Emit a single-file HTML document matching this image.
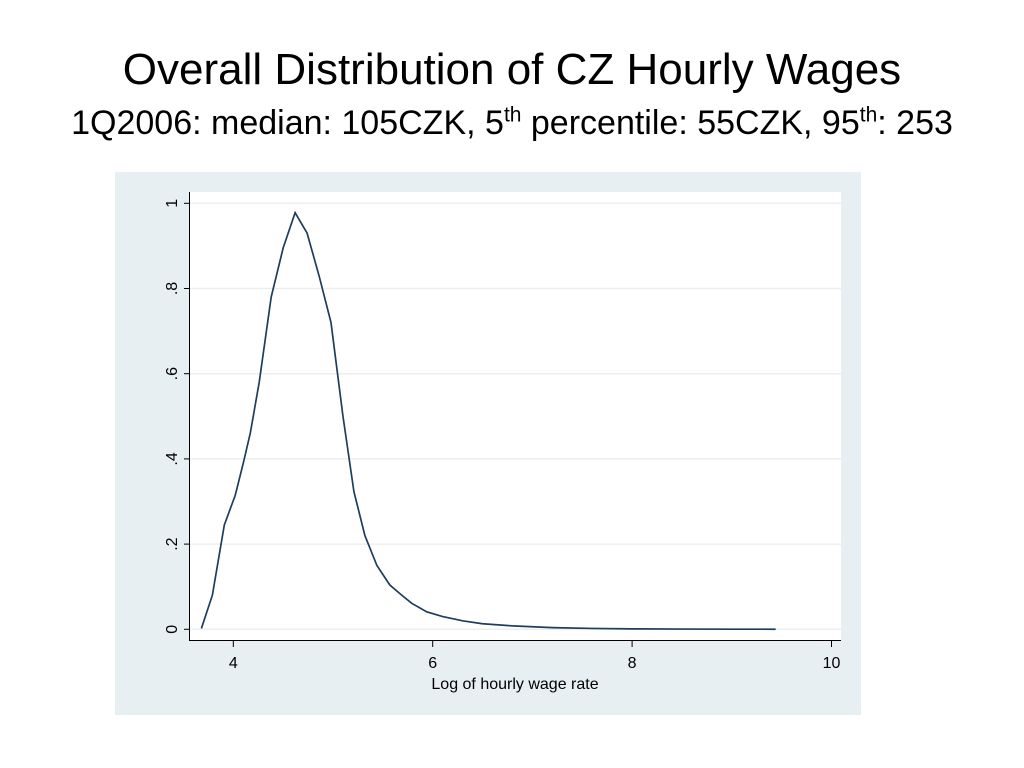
<!DOCTYPE html>
<html><head><meta charset="utf-8"><style>
body{margin:0;background:#fff;width:1024px;height:768px;overflow:hidden;font-family:"Liberation Sans",Arial,sans-serif}
.t{position:absolute;left:0;width:1024px;text-align:center;color:#000;line-height:1;white-space:nowrap}
sup{line-height:0}
</style></head><body>
<div class="t" style="top:48px;font-size:44px">Overall Distribution of CZ Hourly Wages</div>
<div class="t" style="top:106px;font-size:34px">1Q2006: median: 105CZK, 5<sup style="font-size:21px">th</sup> percentile: 55CZK, 95<sup style="font-size:21px">th</sup>: 253</div>
<svg id="c" width="1024" height="768" style="position:absolute;left:0;top:0" xmlns="http://www.w3.org/2000/svg"></svg>
<script>
const xs=[3.68,3.79,3.91,4.02,4.10,4.17,4.26,4.38,4.50,4.62,4.74,4.86,4.98,5.10,5.21,5.32,5.44,5.57,5.68,5.79,5.94,6.1,6.3,6.5,6.8,7.2,7.6,8.0,8.5,9.0,9.44];
const ys=[0.002,0.08,0.245,0.315,0.39,0.46,0.58,0.78,0.895,0.978,0.93,0.83,0.72,0.50,0.323,0.22,0.15,0.104,0.082,0.061,0.041,0.03,0.02,0.013,0.008,0.004,0.002,0.001,0.0005,0.0003,0.0002];
const xTicks=[4,6,8,10];
const yTicks=[0,0.2,0.4,0.6,0.8,1];
const yLabels=["0",".2",".4",".6",".8","1"];
const svg=document.getElementById('c');const NS='http://www.w3.org/2000/svg';
const X=v=>233.3+(v-4)*99.7;const Y=v=>629.3-v*426;
function mk(t,a,p){const e=document.createElementNS(NS,t);for(const k in a)e.setAttribute(k,a[k]);(p||svg).appendChild(e);return e;}
let e;
e=mk('rect',{x:115,y:172,width:746,height:543,fill:'#e8eff2'});


e=mk('rect',{x:190,y:192,width:651,height:448,fill:'#fff'});


yTicks.forEach((v,i)=>{
 e=mk('line',{x1:190,x2:841,y1:Y(v),y2:Y(v),stroke:'#eaf0f2','stroke-width':1.5});
 
 
 mk('line',{x1:184,x2:190,y1:Y(v),y2:Y(v),stroke:'#000','stroke-width':1});
 e=mk('text',{x:0,y:0,transform:`translate(${177},${Y(v)}) rotate(-90)`,'text-anchor':'middle','font-size':16,'font-family':'Liberation Sans, sans-serif'});
 e.textContent=yLabels[i];
 
 
});
xTicks.forEach(v=>{
 mk('line',{x1:X(v),x2:X(v),y1:640,y2:647,stroke:'#000','stroke-width':1});
 e=mk('text',{x:X(v),y:668,'text-anchor':'middle','font-size':16,'font-family':'Liberation Sans, sans-serif'});
 e.textContent=v;
 
 
});
e=mk('line',{x1:189.5,x2:189.5,y1:192,y2:640,stroke:'#000','stroke-width':1});


e=mk('line',{x1:189,x2:841,y1:640.5,y2:640.5,stroke:'#000','stroke-width':1});


e=mk('text',{x:515,y:689,'text-anchor':'middle','font-size':16,'font-family':'Liberation Sans, sans-serif'});
e.textContent='Log of hourly wage rate';


e=mk('polyline',{points:xs.map((x,i)=>X(x)+','+Y(ys[i])).join(' '),fill:'none',stroke:'#1f3d5c','stroke-width':1.7});


</script>
</body></html>
